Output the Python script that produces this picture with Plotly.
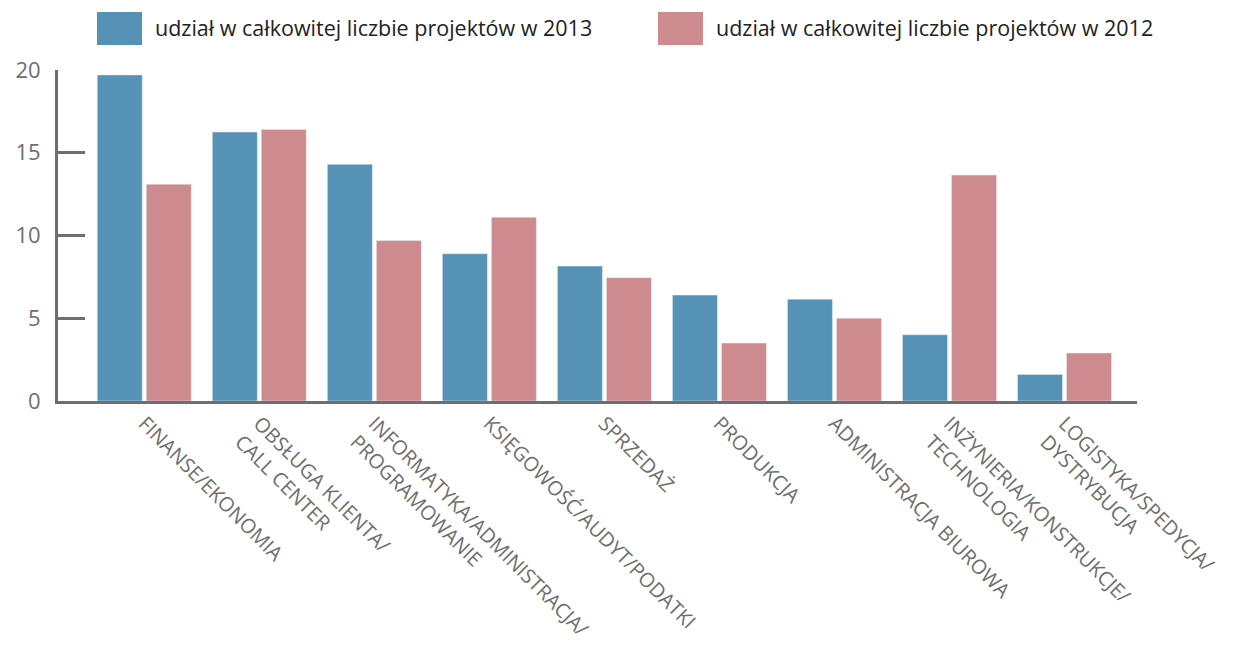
import plotly.graph_objects as go

categories = [
    "FINANSE/EKONOMIA",
    "OBSŁUGA KLIENTA/<br>CALL CENTER",
    "INFORMATYKA/ADMINISTRACJA/<br>PROGRAMOWANIE",
    "KSIĘGOWOŚĆ/AUDYT/PODATKI",
    "SPRZEDAŻ",
    "PRODUKCJA",
    "ADMINISTRACJA BIUROWA",
    "INŻYNIERIA/KONSTRUKCJE/<br>TECHNOLOGIA",
    "LOGISTYKA/SPEDYCJA/<br>DYSTRYBUCJA",
]
series_2013_name = "udział w całkowitej liczbie projektów w 2013"
series_2012_name = "udział w całkowitej liczbie projektów w 2012"
values_2013 = [19.7, 16.25, 14.3, 8.9, 8.15, 6.4, 6.15, 4.0, 1.6]
values_2012 = [13.1, 16.4, 9.7, 11.1, 7.45, 3.5, 5.0, 13.65, 2.9]
y_ticks = [0, 5, 10, 15, 20]

BLUE = "#5592b6"
PINK = "#cd8b8f"
GRAY = "#6e6e6e"
FONT = "Open Sans"

x_idx = list(range(len(categories)))

fig = go.Figure()
fig.add_trace(go.Bar(x=x_idx, y=values_2013, name=series_2013_name, marker_color=BLUE))
fig.add_trace(go.Bar(x=x_idx, y=values_2012, name=series_2012_name, marker_color=PINK))

fig.update_layout(
    width=1249, height=649,
    margin=dict(l=58, r=112, t=70, b=248, autoexpand=False),
    paper_bgcolor="white", plot_bgcolor="white",
    barmode="group", bargap=0.148, bargroupgap=0.082,
    showlegend=False,
    font=dict(family=FONT, color=GRAY),
    xaxis=dict(
        range=[-0.75, 8.63], tickmode="array", tickvals=x_idx, ticktext=categories,
        tickangle=45, showgrid=False, zeroline=False, automargin=False,
        showline=True, linecolor=GRAY, linewidth=3, ticks="",
        tickfont=dict(size=20, color=GRAY, family=FONT),
    ),
    yaxis=dict(
        range=[0, 20], tickmode="array", tickvals=y_ticks, automargin=False,
        showgrid=False, zeroline=False, showline=True, linecolor=GRAY, linewidth=3,
        ticks="inside", ticklen=27, tickwidth=3, tickcolor=GRAY,
        ticklabelstandoff=10,
        tickfont=dict(size=22, color=GRAY, family=FONT),
    ),
)

# custom legend
legend_items = [(series_2013_name, BLUE, 97), (series_2012_name, PINK, 658)]
for name, color, x0 in legend_items:
    fig.add_shape(type="rect", xref="paper", yref="paper",
                  x0=(x0 - 58) / 1079, x1=(x0 + 45 - 58) / 1079,
                  y0=1 + (70 - 45) / 331, y1=1 + (70 - 12) / 331,
                  fillcolor=color, line=dict(width=0))
    fig.add_annotation(xref="paper", yref="paper",
                       x=(x0 + 56 - 58) / 1079, y=1 + (70 - 28) / 331,
                       text=name, showarrow=False, xanchor="left", yanchor="middle",
                       font=dict(size=21.5, color="#222222", family=FONT))

fig.write_html("out.html")
